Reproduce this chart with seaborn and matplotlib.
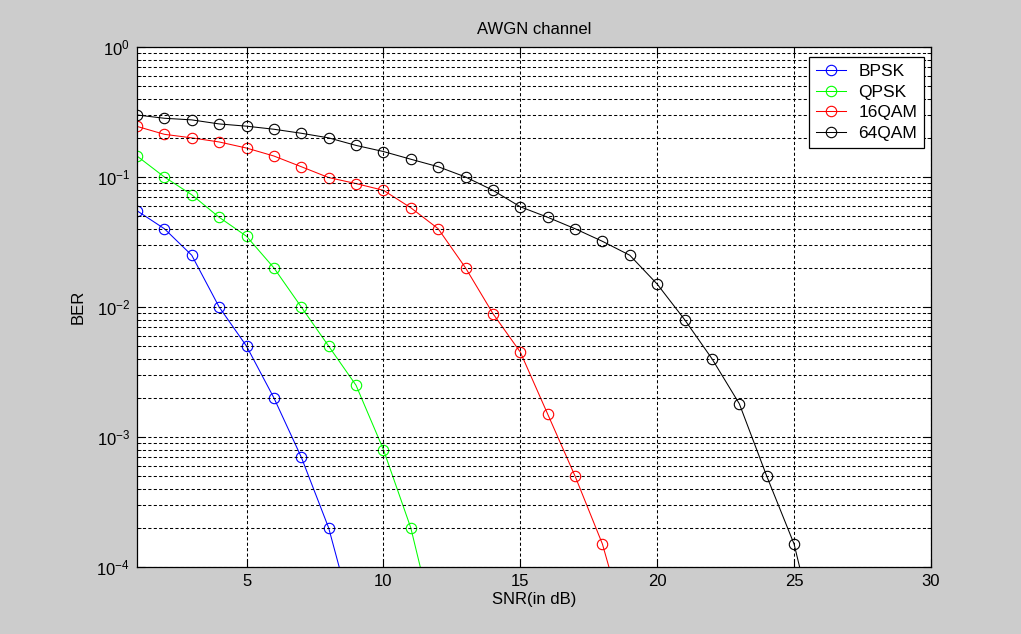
import matplotlib
matplotlib.use("Agg")
import matplotlib.pyplot as plt
import seaborn as sns
import numpy as np
import pandas as pd
from matplotlib.ticker import LogLocator, FixedLocator

# ---- data ----
snr_bpsk = [1, 2, 3, 4, 5, 6, 7, 8, 9]
ber_bpsk = [0.055, 0.040, 0.025, 0.010, 0.005, 0.002, 0.0007, 0.0002, 0.000033]

snr_qpsk = [1, 2, 3, 4, 5, 6, 7, 8, 9, 10, 11, 12]
ber_qpsk = [0.145, 0.100, 0.073, 0.049, 0.035, 0.020, 0.010, 0.005, 0.0025,
            0.0008, 0.0002, 0.000027]

snr_16qam = [1, 2, 3, 4, 5, 6, 7, 8, 9, 10, 11, 12, 13, 14, 15, 16, 17, 18, 19]
ber_16qam = [0.245, 0.213, 0.200, 0.186, 0.167, 0.145, 0.120, 0.099, 0.089,
             0.079, 0.058, 0.040, 0.020, 0.0089, 0.0045, 0.0015, 0.0005,
             0.00015, 0.000027]

snr_64qam = list(range(1, 27))
ber_64qam = [0.300, 0.283, 0.275, 0.256, 0.246, 0.233, 0.217, 0.200, 0.175,
             0.157, 0.137, 0.120, 0.100, 0.079, 0.059, 0.049, 0.040, 0.032,
             0.025, 0.015, 0.008, 0.004, 0.0018, 0.0005, 0.00015, 0.00002]

series_names = ["BPSK", "QPSK", "16QAM", "64QAM"]
series_colors = ["#0000ff", "#00ff00", "#ff0000", "#000000"]
x_ticks = [5, 10, 15, 20, 25, 30]

title_text = "AWGN channel"
x_label = "SNR(in dB)"
y_label = "BER"

# ---- style ----
plt.rcParams["font.family"] = ["Liberation Sans", "DejaVu Sans"]
plt.rcParams["mathtext.fontset"] = "custom"
plt.rcParams["mathtext.rm"] = "Liberation Sans"
plt.rcParams["mathtext.it"] = "Liberation Sans:italic"
plt.rcParams["mathtext.bf"] = "Liberation Sans:bold"

fig = plt.figure(figsize=(10.21, 6.34), dpi=100, facecolor="#cccccc")
ax = fig.add_axes([137 / 1021, 1 - 567 / 634, (931 - 137) / 1021, (567 - 47) / 634])
ax.set_facecolor("white")
ax.set_yscale("log")

frames = []
data = [(snr_bpsk, ber_bpsk), (snr_qpsk, ber_qpsk),
        (snr_16qam, ber_16qam), (snr_64qam, ber_64qam)]
for name, (xs, ys) in zip(series_names, data):
    frames.append(pd.DataFrame({"snr": xs, "ber": ys, "mod": name}))
df = pd.concat(frames, ignore_index=True)

for name, color in zip(series_names, series_colors):
    sub = df[df["mod"] == name]
    sns.lineplot(data=sub, x="snr", y="ber", ax=ax, color=color, marker="o",
                 markersize=7.5, markerfacecolor="none", markeredgecolor=color,
                 markeredgewidth=0.8, linewidth=0.75, estimator=None, sort=False,
                 label=name)

ax.set_xlim(1, 30)
ax.set_ylim(1e-4, 1)
ax.xaxis.set_major_locator(FixedLocator(x_ticks))
ax.yaxis.set_major_locator(LogLocator(base=10, numticks=10))
ax.yaxis.set_minor_locator(LogLocator(base=10, subs=np.arange(2, 10), numticks=20))

dash = (0, (3, 2.2))
ax.grid(True, which="major", axis="both", color="black", linestyle=dash, linewidth=0.75)
ax.grid(True, which="minor", axis="y", color="black", linestyle=dash, linewidth=0.75)
ax.set_axisbelow(False)

ax.tick_params(which="major", direction="in", length=6, width=0.8, top=True,
               right=True, labelsize=12, pad=5, colors="black")
ax.tick_params(which="minor", direction="in", length=3, width=0.6, top=True,
               right=True)
for s in ax.spines.values():
    s.set_color("black")
    s.set_linewidth(0.9)

ax.set_title(title_text, fontsize=12, pad=9)
ax.set_xlabel(x_label, fontsize=12, labelpad=2)
ax.set_ylabel(y_label, fontsize=12, labelpad=8)

leg = ax.legend(loc="upper right", bbox_to_anchor=(0.9912, 0.9808),
                borderaxespad=0, fontsize=12.5, frameon=True, fancybox=False,
                framealpha=1, edgecolor="black", handlelength=1.75,
                handletextpad=0.7, labelspacing=0.32, borderpad=0.4)
leg.get_frame().set_linewidth(0.9)

fig.savefig("out.png", dpi=100, facecolor=fig.get_facecolor())
